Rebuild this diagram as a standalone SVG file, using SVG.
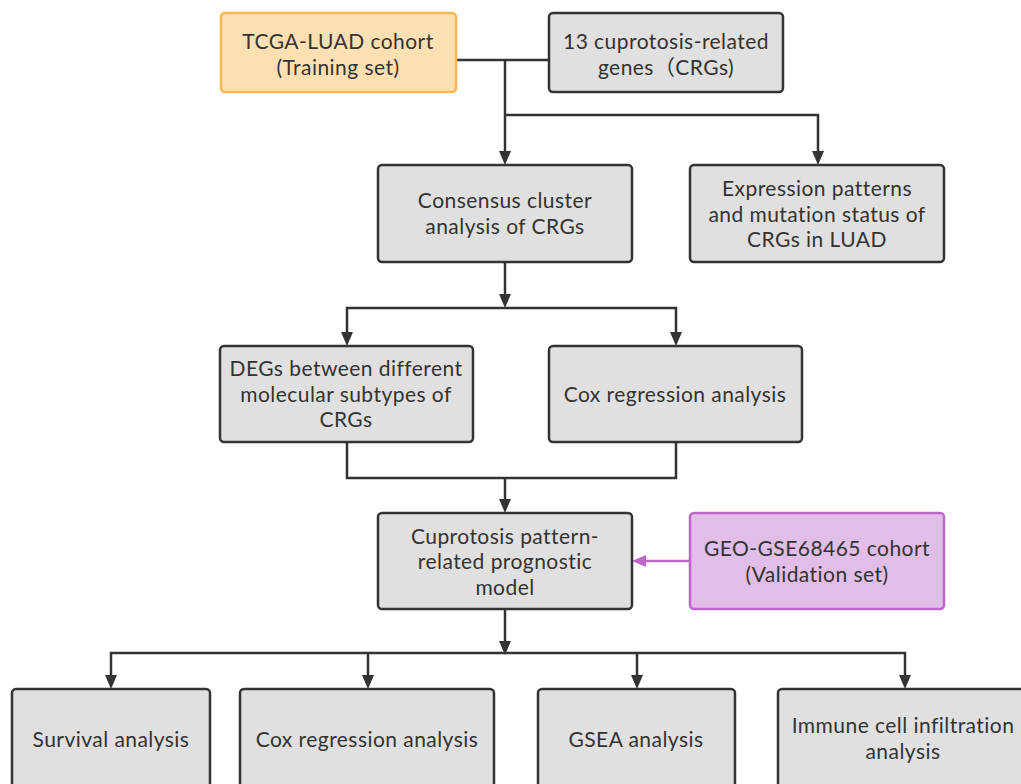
<svg xmlns="http://www.w3.org/2000/svg" width="1021" height="784" viewBox="0 0 1021 784">
<style>
.n{fill:#e0e0e0;stroke:#333;stroke-width:2.5}
.o{fill:#ffe0b2;stroke:#fbb64f;stroke-width:2.5}
.p{fill:#e1bee7;stroke:#bb66c9;stroke-width:2.5}
text{font-family:Lato,"Open Sans","Noto Sans CJK SC",sans-serif;font-size:21px;letter-spacing:0.45px;font-variant-ligatures:none;fill:#333;text-anchor:middle}
.c{fill:none;stroke:#333;stroke-width:2.5}
.cp{fill:none;stroke:#bb66c9;stroke-width:2.5}
.h{fill:#333}
.hp{fill:#bb66c9}
</style>
<rect width="1021" height="784" fill="#fff"/>
<g id="connectors">
<path class="c" d="M456,60 H549"/>
<path class="c" d="M505,60 V152"/>
<path class="h" d="M499,151 L511,151 L505,165 Z"/>
<path class="c" d="M505,115 H818 V152"/>
<path class="h" d="M812,151 L824,151 L818,165 Z"/>
<path class="c" d="M505,262 V295"/>
<path class="h" d="M499,294 L511,294 L505,308 Z"/>
<path class="c" d="M347,333 V308 H676 V333"/>
<path class="h" d="M341,332 L353,332 L347,346 Z"/>
<path class="h" d="M670,332 L682,332 L676,346 Z"/>
<path class="c" d="M347,442 V478 H676 V442"/>
<path class="c" d="M505,478 V500"/>
<path class="h" d="M499,499 L511,499 L505,513 Z"/>
<path class="cp" d="M690,561 H645"/>
<path class="hp" d="M646,555 L646,567 L632,561 Z"/>
<path class="c" d="M505,609 V642"/>
<path class="h" d="M499,641 L511,641 L505,655 Z"/>
<path class="c" d="M111,676 V653 H905 V676"/>
<path class="c" d="M368,653 V676"/>
<path class="c" d="M637,653 V676"/>
<path class="h" d="M105,675 L117,675 L111,689 Z"/>
<path class="h" d="M362,675 L374,675 L368,689 Z"/>
<path class="h" d="M631,675 L643,675 L637,689 Z"/>
<path class="h" d="M899,675 L911,675 L905,689 Z"/>
</g>
<g id="tcga"><rect class="o" x="221" y="13" width="235" height="79" rx="4"/><text x="338" y="49">TCGA-LUAD cohort</text><text x="338" y="75">(Training set)</text></g>
<g id="crgs"><rect class="n" x="549" y="13" width="234" height="79" rx="4"/><text x="666" y="49">13 cuprotosis-related</text><text x="666" y="75">genes（CRGs)</text></g>
<g id="consensus"><rect class="n" x="378" y="165" width="254" height="97" rx="4"/><text x="505" y="208">Consensus cluster</text><text x="505" y="234">analysis of CRGs</text></g>
<g id="expression"><rect class="n" x="690" y="165" width="254" height="97" rx="4"/><text x="817" y="196">Expression patterns</text><text x="817" y="221.5">and mutation status of</text><text x="817" y="247">CRGs in LUAD</text></g>
<g id="degs"><rect class="n" x="220" y="346" width="253" height="96" rx="4"/><text x="346" y="376">DEGs between different</text><text x="346" y="401.5">molecular subtypes of</text><text x="346" y="427">CRGs</text></g>
<g id="cox1"><rect class="n" x="549" y="346" width="253" height="96" rx="4"/><text x="675" y="402">Cox regression analysis</text></g>
<g id="model"><rect class="n" x="378" y="513" width="254" height="96" rx="4"/><text x="505" y="543.5">Cuprotosis pattern-</text><text x="505" y="569">related prognostic</text><text x="505" y="594.5">model</text></g>
<g id="geo"><rect class="p" x="690" y="513" width="254" height="96" rx="4"/><text x="817" y="556">GEO-GSE68465 cohort</text><text x="817" y="582">(Validation set)</text></g>
<g id="survival"><rect class="n" x="12" y="689" width="198" height="105" rx="4"/><text x="111" y="747">Survival analysis</text></g>
<g id="cox2"><rect class="n" x="240" y="689" width="254" height="105" rx="4"/><text x="367" y="747">Cox regression analysis</text></g>
<g id="gsea"><rect class="n" x="538" y="689" width="197" height="105" rx="4"/><text x="636" y="747">GSEA analysis</text></g>
<g id="immune"><rect class="n" x="778" y="689" width="254" height="105" rx="4"/><text x="903" y="733">Immune cell infiltration</text><text x="903" y="758.5">analysis</text></g>
</svg>
